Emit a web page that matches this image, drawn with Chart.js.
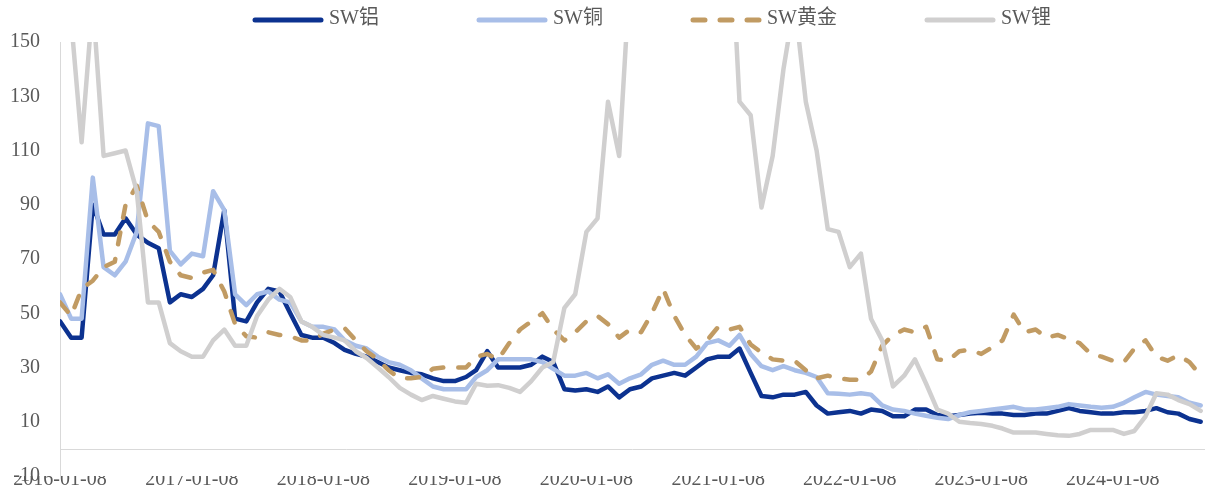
<!DOCTYPE html>
<html>
<head>
<meta charset="utf-8">
<script src="https://cdn.jsdelivr.net/npm/chart.js@4.4.1/dist/chart.umd.min.js"></script>
<style>
  html, body { margin: 0; padding: 0; background: #fff; }
  #wrap { width: 1205px; height: 490px; }
</style>
</head>
<body>
<div id="wrap"><canvas id="chart-area" width="1205" height="490"></canvas></div>
<script>
// monthly samples
var dates = [
    '2016-01-08', '2016-02-08', '2016-03-08', '2016-04-08', '2016-05-08', '2016-06-08', '2016-07-08', '2016-08-08', '2016-09-08', '2016-10-08', '2016-11-08', '2016-12-08',
    '2017-01-08', '2017-02-08', '2017-03-08', '2017-04-08', '2017-05-08', '2017-06-08', '2017-07-08', '2017-08-08', '2017-09-08', '2017-10-08', '2017-11-08', '2017-12-08',
    '2018-01-08', '2018-02-08', '2018-03-08', '2018-04-08', '2018-05-08', '2018-06-08', '2018-07-08', '2018-08-08', '2018-09-08', '2018-10-08', '2018-11-08', '2018-12-08',
    '2019-01-08', '2019-02-08', '2019-03-08', '2019-04-08', '2019-05-08', '2019-06-08', '2019-07-08', '2019-08-08', '2019-09-08', '2019-10-08', '2019-11-08', '2019-12-08',
    '2020-01-08', '2020-02-08', '2020-03-08', '2020-04-08', '2020-05-08', '2020-06-08', '2020-07-08', '2020-08-08', '2020-09-08', '2020-10-08', '2020-11-08', '2020-12-08',
    '2021-01-08', '2021-02-08', '2021-03-08', '2021-04-08', '2021-05-08', '2021-06-08', '2021-07-08', '2021-08-08', '2021-09-08', '2021-10-08', '2021-11-08', '2021-12-08',
    '2022-01-08', '2022-02-08', '2022-03-08', '2022-04-08', '2022-05-08', '2022-06-08', '2022-07-08', '2022-08-08', '2022-09-08', '2022-10-08', '2022-11-08', '2022-12-08',
    '2023-01-08', '2023-02-08', '2023-03-08', '2023-04-08', '2023-05-08', '2023-06-08', '2023-07-08', '2023-08-08', '2023-09-08', '2023-10-08', '2023-11-08', '2023-12-08',
    '2024-01-08', '2024-02-08', '2024-03-08', '2024-04-08', '2024-05-08', '2024-06-08', '2024-07-08', '2024-08-08', '2024-09-08'
];

var tickDates = ['2016-01-08', '2017-01-08', '2018-01-08', '2019-01-08', '2020-01-08', '2021-01-08', '2022-01-08', '2023-01-08', '2024-01-08'];
var yTicks = [-10, 10, 30, 50, 70, 90, 110, 130, 150];

var aluminum = [
    47, 41, 41, 90, 79, 79, 85, 79, 76, 74, 54, 57,
    56, 59, 64, 88, 48, 47, 54, 59, 58, 50, 42, 41,
    41, 39, 36.5, 35, 34, 32, 30, 29, 28, 27.5, 26, 25,
    25, 26.5, 29, 36, 30, 30, 30, 31, 34, 32, 22, 21.5,
    22, 21, 23, 19, 22, 23, 26, 27, 28, 27, 30, 33,
    34, 34, 37, 28, 19.5, 19, 20, 20, 21, 16, 13, 13.5,
    14, 13, 14.5, 14, 12, 12, 14.5, 14.5, 12.5, 12, 12.5, 13,
    13.3, 13, 13, 12.5, 12.5, 13, 13, 14, 15, 14, 13.5, 13,
    13, 13.5, 13.5, 14, 15, 13.5, 13, 11, 10
];

var copper = [
    57, 48, 48, 100, 67, 64, 69, 80, 120, 119, 73, 68,
    72, 71, 95, 88, 57, 53, 57, 58, 55, 54, 47, 45,
    45, 44, 40, 38, 37, 34, 32, 31, 29, 26, 23, 22,
    22, 22, 26.5, 29, 33, 33, 33, 33, 32, 29.5, 27, 27,
    28, 26, 27.5, 24, 26, 27.5, 31, 32.5, 31, 31, 34, 39,
    40, 38, 42, 35, 30.5, 29, 30.5, 29, 28, 26.5, 20.5, 20.3,
    20, 20.5, 20, 16, 14.5, 14, 13, 12.2, 11.5, 11, 12.5, 13.5,
    14, 14.5, 15, 15.5, 14.5, 14.5, 15, 15.5, 16.5, 16, 15.5, 15.2,
    15.5, 17, 19, 21, 20, 19.5, 19, 17, 16
];

var gold = [
    54, 49, 59, 62, 67, 69, 90, 97, 84, 80, 69, 64,
    63, 65, 66, 58, 46, 41.5, 41, 43, 42, 41.5, 40, 40,
    42.5, 44, 44.5, 40, 36, 33, 29, 26, 26, 26.5, 29.5, 30,
    30, 30, 34, 35, 33, 39, 44, 47, 50, 44, 40, 43,
    47, 49, 46, 41, 44, 43, 50, 59, 49, 42, 37, 40,
    45, 44, 45, 38.5, 35.5, 33, 32.5, 32.5, 29, 26, 27, 26,
    25.5, 25.5, 28.5, 38, 42, 44, 43, 45, 33, 32.5, 36, 36.5,
    35, 37.5, 40, 49.5, 43, 44, 41, 42, 40.5, 39, 35, 34,
    32.5, 32, 37, 40, 34, 32.5, 34.5, 32, 27
];

var lithium = [
    160, 158, 113, 165, 108, 109, 110, 95, 54, 54, 39, 36,
    34, 34, 40, 44, 38, 38, 49, 55, 59, 56, 47, 45,
    42, 41, 40, 36, 33.5, 30, 26.5, 22.5, 20, 18, 19.5, 18.5,
    17.5, 17, 24, 23.3, 23.5, 22.5, 21, 25, 30, 32, 52, 57,
    80, 85, 128, 108, 175, 210, 240, 260, 280, 290, 270, 250,
    230, 200, 128, 123, 89, 108, 140, 165, 128, 110, 81, 80,
    67, 72, 48, 40, 23, 27, 33, 24, 14.5, 13, 10, 9.5,
    9.2, 8.5, 7.5, 6, 6, 6, 5.5, 5, 4.8, 5.5, 7, 7,
    7, 5.5, 6.6, 12, 20.5, 20, 18, 16.5, 14
];

var fontFamily = '"Liberation Serif", "Noto Sans CJK SC", serif';

function toPoints(values) {
    return values.map(function (v, i) {
        return { x: Date.parse(dates[i]), y: v };
    });
}

// x axis crosses at 0, not at the bottom of the plot
var zeroLine = {
    id: 'zeroLine',
    beforeDatasetsDraw: function (chart) {
        var ctx = chart.ctx, area = chart.chartArea;
        var y = Math.round(chart.scales.y.getPixelForValue(0)) + 0.5;
        ctx.save();
        ctx.strokeStyle = '#d9d9d9';
        ctx.lineWidth = 1;
        ctx.beginPath();
        ctx.moveTo(area.left, y);
        ctx.lineTo(area.right, y);
        ctx.stroke();
        ctx.restore();
    }
};

// excel style legend: equal slots, entry centred in each slot
var topLegend = {
    id: 'topLegend',
    afterDraw: function (chart) {
        var ctx = chart.ctx;
        var center = 653, slot = 224, lineLen = 66, gap = 8, y = 19;
        ctx.save();
        ctx.font = '20px ' + fontFamily;
        ctx.textBaseline = 'middle';
        var sets = chart.data.datasets;
        sets.forEach(function (ds, i) {
            var w = lineLen + gap + ctx.measureText(ds.label).width;
            var x0 = center + (i - (sets.length - 1) / 2) * slot - w / 2;
            ctx.strokeStyle = ds.borderColor;
            ctx.lineWidth = 5;
            ctx.lineCap = 'round';
            ctx.setLineDash(ds.borderDash || []);
            ctx.beginPath();
            ctx.moveTo(x0, y + 1);
            ctx.lineTo(x0 + lineLen, y + 1);
            ctx.stroke();
            ctx.setLineDash([]);
            ctx.fillStyle = '#595959';
            ctx.fillText(ds.label, x0 + lineLen + gap, y);
        });
        ctx.restore();
    }
};

function series(label, values, color, order, dash) {
    return {
        label: label,
        data: toPoints(values),
        borderColor: color,
        backgroundColor: color,
        borderWidth: 4.5,
        borderDash: dash,
        borderCapStyle: 'round',
        borderJoinStyle: 'round',
        pointRadius: 0,
        tension: 0,
        order: order
    };
}

var config = {
    type: 'line',
    data: {
        datasets: [
            series('SW铝', aluminum, '#0c3290', 4),
            series('SW铜', copper, '#a8bee8', 3),
            series('SW黄金', gold, '#c19b63', 2, [12, 15]),
            series('SW锂', lithium, '#d0cfcf', 1)
        ]
    },
    options: {
        responsive: false,
        animation: false,
        devicePixelRatio: 1,
        layout: { padding: { top: 42, left: 0, right: 0, bottom: 0 } },
        plugins: {
            legend: { display: false },
            tooltip: { enabled: false }
        },
        scales: {
            x: {
                type: 'linear',
                min: Date.parse('2016-01-08'),
                max: Date.parse('2024-09-20'),
                afterBuildTicks: function (scale) {
                    scale.ticks = tickDates.map(function (d) { return { value: Date.parse(d) }; });
                },
                afterFit: function (scale) { scale.height = 14; },
                grid: { display: false, drawTicks: false },
                border: { display: false },
                ticks: {
                    autoSkip: false,
                    maxRotation: 0,
                    padding: -8,
                    color: '#595959',
                    font: { family: fontFamily, size: 20 },
                    callback: function (v) { return new Date(v).toISOString().slice(0, 10); }
                }
            },
            y: {
                min: -10,
                max: 150,
                afterBuildTicks: function (scale) {
                    scale.ticks = yTicks.map(function (v) { return { value: v }; });
                },
                afterFit: function (scale) {
                    scale.width = 60;
                    scale.paddingTop = 0;
                    scale.paddingBottom = 0;
                },
                grid: { display: false, drawTicks: false },
                border: { display: true, color: '#d9d9d9', width: 1 },
                ticks: {
                    padding: 20,
                    color: '#595959',
                    font: { family: fontFamily, size: 20 }
                }
            }
        }
    },
    plugins: [zeroLine, topLegend]
};

window.onload = function () {
    var ctx = document.getElementById('chart-area').getContext('2d');
    window.myLine = new Chart(ctx, config);
};
</script>
</body>
</html>
